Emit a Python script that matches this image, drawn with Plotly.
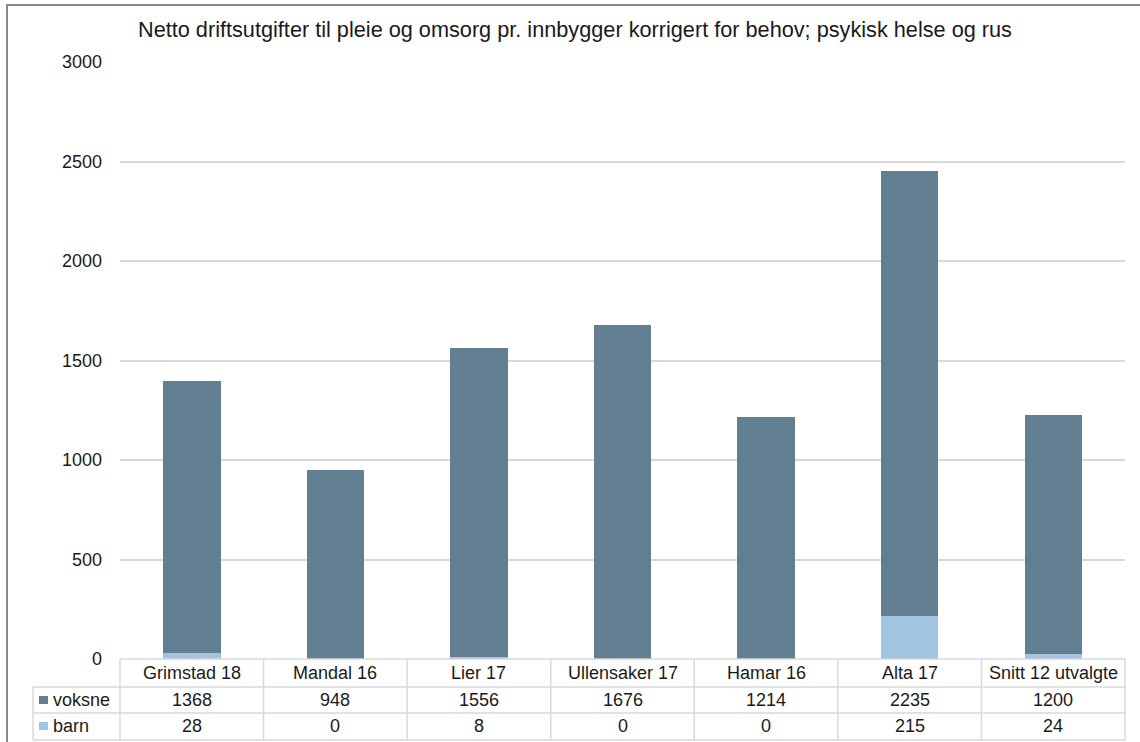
import plotly.graph_objects as go

# Kommuner / kategorier
kategorier = ["Grimstad 18", "Mandal 16", "Lier 17", "Ullensaker 17", "Hamar 16", "Alta 17", "Snitt 12 utvalgte"]
voksne = [1368, 948, 1556, 1676, 1214, 2235, 1200]
barn = [28, 0, 8, 0, 0, 215, 24]

serier = [("voksne", voksne, "#627f91"), ("barn", barn, "#a0c4e2")]

W, H = 1140, 742
L, R, T, B = 120, 1125, 62, 659  # plot area in pixels
FONT = "Liberation Sans, Arial, sans-serif"
GRID = "#d9d9d9"
TXT = "#1a1a1a"


def px(x):
    return (x - L) / (R - L)


def py(y):
    return (B - y) / (B - T)


fig = go.Figure()
# barn at the bottom of the stack, voksne on top
fig.add_trace(go.Bar(x=kategorier, y=barn, name="barn", marker_color=serier[1][2],
                     marker_line_width=0, hoverinfo="x+y+name"))
fig.add_trace(go.Bar(x=kategorier, y=voksne, name="voksne", marker_color=serier[0][2],
                     marker_line_width=0, hoverinfo="x+y+name"))

shapes = []
annotations = []

# outer chart border
shapes.append(dict(type="rect", xref="paper", yref="paper",
                   x0=px(7), x1=px(1160), y0=py(5), y1=py(760),
                   line=dict(color="#8a8a8a", width=2), fillcolor="rgba(0,0,0,0)", layer="below"))

# data table grid
n = len(kategorier)
cw = (R - L) / n
rows = [659, 687, 713, 740]
for i, yy in enumerate(rows):
    x0 = L if i == 0 else 33
    shapes.append(dict(type="line", xref="paper", yref="paper",
                       x0=px(x0), x1=px(R), y0=py(yy), y1=py(yy),
                       line=dict(color=GRID, width=1.5), layer="above"))
for k in range(n + 1):
    xx = L + k * cw
    shapes.append(dict(type="line", xref="paper", yref="paper",
                       x0=px(xx), x1=px(xx), y0=py(659), y1=py(740),
                       line=dict(color=GRID, width=1.5), layer="above"))
shapes.append(dict(type="line", xref="paper", yref="paper",
                   x0=px(33), x1=px(33), y0=py(687), y1=py(740),
                   line=dict(color=GRID, width=1.5), layer="above"))

# header row: category names
for kat in kategorier:
    annotations.append(dict(x=kat, xref="x", y=py(673), yref="paper", text=kat,
                            showarrow=False, font=dict(family=FONT, size=18, color=TXT),
                            xanchor="center", yanchor="middle"))

# value rows with legend keys
for (navn, verdier, farge), yc in zip(serier, [700, 726]):
    shapes.append(dict(type="rect", xref="paper", yref="paper",
                       x0=px(39), x1=px(48), y0=py(yc - 4), y1=py(yc + 4),
                       fillcolor=farge, line=dict(width=0), layer="above"))
    annotations.append(dict(x=px(51), xref="paper", y=py(yc), yref="paper", text=navn,
                            showarrow=False, font=dict(family=FONT, size=18, color=TXT),
                            xanchor="left", yanchor="middle"))
    for kat, v in zip(kategorier, verdier):
        annotations.append(dict(x=kat, xref="x", y=py(yc), yref="paper", text=str(v),
                                showarrow=False, font=dict(family=FONT, size=18, color=TXT),
                                xanchor="center", yanchor="middle"))

# title
annotations.append(dict(x=px(575), xref="paper", y=py(30), yref="paper",
                        text="Netto driftsutgifter til pleie og omsorg pr. innbygger korrigert for behov; psykisk helse og rus",
                        showarrow=False, font=dict(family=FONT, size=21.7, color=TXT),
                        xanchor="center", yanchor="middle"))

fig.update_layout(
    width=W, height=H,
    margin=dict(l=L, r=W - R, t=T, b=H - B, pad=0),
    barmode="stack",
    bargap=0.6,
    showlegend=False,
    plot_bgcolor="white",
    paper_bgcolor="white",
    font=dict(family=FONT, size=18, color=TXT),
    xaxis=dict(showticklabels=False, showgrid=False, zeroline=False, showline=False,
               ticks="", range=[-0.5, n - 0.5]),
    yaxis=dict(range=[0, 3000], tickvals=[0, 500, 1000, 1500, 2000, 2500, 3000],
               showgrid=True, gridcolor=GRID, gridwidth=1.5, zeroline=False,
               showline=False, ticks="", ticklabelstandoff=17,
               tickfont=dict(family=FONT, size=18, color=TXT)),
    shapes=shapes,
    annotations=annotations,
)

fig.write_html("out.html")
